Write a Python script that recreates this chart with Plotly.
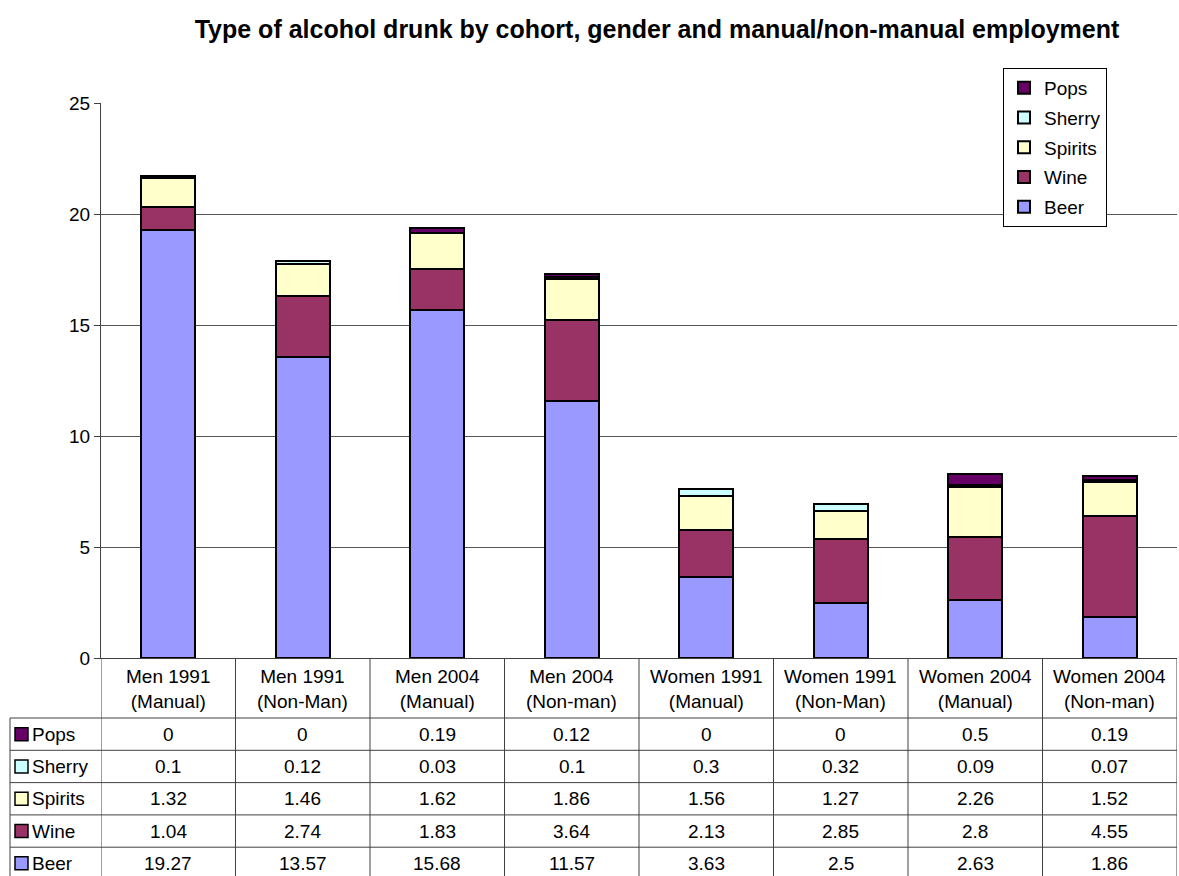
import plotly.graph_objects as go

categories = ["Men 1991<br>(Manual)", "Men 1991<br>(Non-Man)", "Men 2004<br>(Manual)", "Men 2004<br>(Non-man)",
              "Women 1991<br>(Manual)", "Women 1991<br>(Non-Man)", "Women 2004<br>(Manual)", "Women 2004<br>(Non-man)"]
beer = [19.27, 13.57, 15.68, 11.57, 3.63, 2.5, 2.63, 1.86]
wine = [1.04, 2.74, 1.83, 3.64, 2.13, 2.85, 2.8, 4.55]
spirits = [1.32, 1.46, 1.62, 1.86, 1.56, 1.27, 2.26, 1.52]
sherry = [0.1, 0.12, 0.03, 0.1, 0.3, 0.32, 0.09, 0.07]
pops = [0, 0, 0.19, 0.12, 0, 0, 0.5, 0.19]
y_ticks = [0, 5, 10, 15, 20, 25]

series = [("Beer", beer, "#9999FF"), ("Wine", wine, "#993366"), ("Spirits", spirits, "#FFFFCC"),
          ("Sherry", sherry, "#CCFFFF"), ("Pops", pops, "#660066")]

W, H = 1179, 876
FONT = "Arial, Liberation Sans, sans-serif"
FS = 19


def px(x):
    return x / W


def py(y):
    return (H - y) / H


fig = go.Figure()
nser = len(series)
for k, (name, vals, col) in enumerate(series):
    fig.add_trace(go.Bar(x=categories, y=vals, name=name, legendgroup=name, legendrank=nser - k,
                         marker=dict(color=col, line=dict(color="black", width=2))))

plot_l, plot_r, y0pix, y25pix = 101, 1177, 658, 103
ncat = len(categories)

shapes = []
annotations = []
line_col = "#404040"

# header row (category labels)
hdr_top, hdr_bot = 658, 718
row_h = 32.3
table_left = 10
for i, cat in enumerate(categories):
    annotations.append(dict(x=i, xref="x", y=py((hdr_top + hdr_bot) / 2 + 1), yref="paper", text=cat,
                            showarrow=False, font=dict(size=FS, family=FONT, color="black"),
                            xanchor="center", yanchor="middle"))
# vertical boundaries
for k in range(ncat + 1):
    shapes.append(dict(type="line", xref="x", yref="paper", x0=k - 0.5, x1=k - 0.5,
                       y0=py(hdr_top), y1=py(hdr_bot + row_h * 5 + 5), line=dict(color=line_col, width=1)))
# left column boundary
shapes.append(dict(type="line", xref="paper", yref="paper", x0=px(table_left), x1=px(table_left),
                   y0=py(hdr_bot), y1=py(hdr_bot + row_h * 5 + 5), line=dict(color=line_col, width=1)))
# horizontal lines
shapes.append(dict(type="line", xref="paper", yref="paper", x0=px(table_left), x1=px(plot_r),
                   y0=py(hdr_bot), y1=py(hdr_bot), line=dict(color=line_col, width=1)))
table_rows = list(reversed(series))  # Pops first
for r, (name, vals, col) in enumerate(table_rows):
    top = hdr_bot + r * row_h
    bot = top + row_h
    mid = (top + bot) / 2
    shapes.append(dict(type="line", xref="paper", yref="paper", x0=px(table_left), x1=px(plot_r),
                       y0=py(bot), y1=py(bot), line=dict(color=line_col, width=1)))
    # key square
    shapes.append(dict(type="rect", xref="paper", yref="paper", x0=px(15), x1=px(28),
                       y0=py(mid + 6.5), y1=py(mid - 6.5), fillcolor=col, line=dict(color="black", width=1.5)))
    annotations.append(dict(x=px(30), xref="paper", y=py(mid), yref="paper", text=name, showarrow=False,
                            font=dict(size=FS, family=FONT, color="black"), xanchor="left", yanchor="middle"))
    for i, v in enumerate(vals):
        annotations.append(dict(x=i, xref="x", y=py(mid), yref="paper", text=f"{v:g}", showarrow=False,
                                font=dict(size=FS, family=FONT, color="black"), xanchor="center", yanchor="middle"))

fig.update_layout(
    width=W, height=H,
    margin=dict(l=0, r=0, t=0, b=0, autoexpand=False),
    paper_bgcolor="white", plot_bgcolor="white",
    barmode="stack", bargap=0.6,
    font=dict(family=FONT, size=FS, color="black"),
    title=dict(text="<b>Type of alcohol drunk by cohort, gender and manual/non-manual employment</b>",
               x=657 / W, xanchor="center", y=py(29), yanchor="middle",
               font=dict(size=25, family=FONT, color="black")),
    xaxis=dict(domain=[px(plot_l), px(plot_r)], showticklabels=False, ticks="",
               showline=True, linecolor=line_col, linewidth=1, showgrid=False, range=[-0.5, ncat - 0.5]),
    yaxis=dict(domain=[py(y0pix), py(y25pix)], range=[0, 25], tickvals=y_ticks, ticks="outside", ticklen=6,
               tickcolor=line_col, showline=True, linecolor=line_col, linewidth=1,
               showgrid=True, gridcolor="#555555", gridwidth=1, zeroline=False,
               tickfont=dict(size=FS, family=FONT)),
    legend=dict(x=px(1003), y=py(68), xanchor="left", yanchor="top", traceorder="grouped",
                tracegroupgap=2, bgcolor="white", bordercolor="black", borderwidth=1,
                font=dict(size=FS, family=FONT), itemwidth=30),
    shapes=shapes, annotations=annotations,
)

fig.write_html("out.html", config={"displayModeBar": False},
               post_script="document.body.style.margin='0';document.body.style.overflow='hidden';")
